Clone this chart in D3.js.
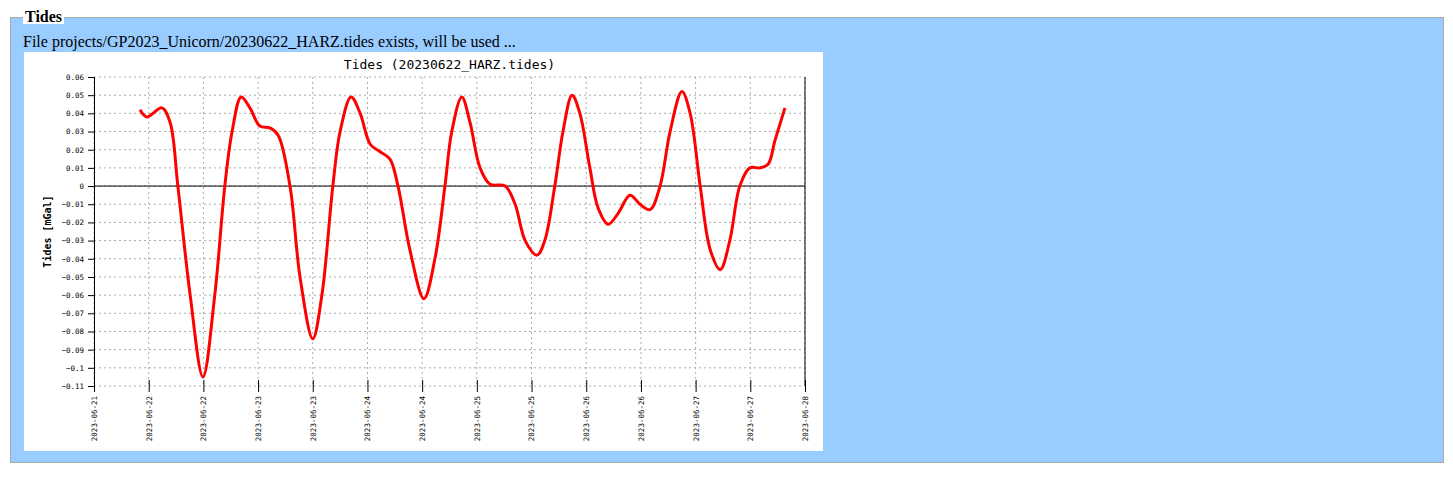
<!DOCTYPE html>
<html>
<head>
<meta charset="utf-8">
<script src="https://cdn.jsdelivr.net/npm/d3@7"></script>
<style>
body { margin: 0; background: #fff; font-family: "Liberation Serif", serif; }
fieldset { position: absolute; left: 10px; top: 10px; width: 1408px; height: 435px; margin: 0; padding: 8px 12px;
  border: 1px solid #aaa; background: #99ccff; }
legend { font-weight: bold; font-size: 16px; padding: 0 2px; background: #fff; line-height: 14px; }
#msg { font-size: 16px; margin-top: 1px; }
#chart { position: absolute; left: 13px; top: 28px; }
text { font-family: "DejaVu Sans Mono", monospace; }
</style>
</head>
<body>
<fieldset><legend>Tides</legend>
<div id="msg">File projects/GP2023_Unicorn/20230622_HARZ.tides exists, will be used ...</div>
<div id="chart"></div>
</fieldset>
<script>
// hours since 2023-06-21 12:00
const hours = [10.1, 11.6, 14.9, 16.7, 18.4, 21.1, 23.9, 26.5, 28.7, 30.3, 32.3, 34.2, 36.4, 38.6, 40.4, 43.0,
  45.2, 48.0, 50.0, 52.4, 54.0, 56.4, 58.4, 60.6, 62.7, 64.9, 66.7, 69.3, 72.4, 74.8, 77.0, 78.5, 80.7, 82.5,
  84.7, 86.9, 90.2, 92.4, 94.6, 97.2, 98.9, 101.1, 102.9, 104.9, 106.6, 108.8, 110.6, 112.8, 115.0, 117.6,
  119.8, 122.0, 124.2, 126.4, 129.0, 130.8, 133.0, 135.2, 137.4, 139.5, 141.7, 143.9, 146.1, 147.9, 149.4, 151.6];
const tides = [0.042, 0.038, 0.043, 0.035, 0.0, -0.06, -0.105, -0.06, 0.0, 0.03, 0.049, 0.043, 0.033, 0.032, 0.028, 0.0,
  -0.05, -0.084, -0.06, 0.0, 0.03, 0.049, 0.04, 0.023, 0.019, 0.015, 0.0, -0.035, -0.062, -0.04, 0.0, 0.03, 0.049, 0.035,
  0.01, 0.001, 0.0, -0.01, -0.03, -0.038, -0.03, 0.0, 0.03, 0.05, 0.04, 0.01, -0.012, -0.021, -0.015, -0.005,
  -0.01, -0.013, 0.0, 0.03, 0.052, 0.04, 0.0, -0.035, -0.046, -0.03, 0.0, 0.01, 0.01, 0.012, 0.025, 0.043];
const yTicks = [0.06, 0.05, 0.04, 0.03, 0.02, 0.01, 0, -0.01, -0.02, -0.03, -0.04, -0.05, -0.06, -0.07, -0.08, -0.09, -0.1, -0.11];
const xStart = new Date(2023, 5, 21, 12), xEnd = new Date(2023, 5, 28, 0);

const W = 799, H = 399;
const margin = { top: 25, right: 18, bottom: 65, left: 70 };
const svg = d3.select("#chart").append("svg").attr("width", W).attr("height", H).style("background", "#fff").style("display", "block");
const g = svg.append("g").attr("transform", `translate(${margin.left},${margin.top})`);
const w = W - margin.left - margin.right, h = H - margin.top - margin.bottom;

const x = d3.scaleTime().domain([xStart, xEnd]).range([0, w]);
const y = d3.scaleLinear().domain([-0.11, 0.06]).range([h, 0]);
const xTicks = d3.timeHour.every(12).range(xStart, new Date(+xEnd + 1));

// grid
g.selectAll(".gy").data(yTicks).enter().append("line")
  .attr("x1", 0).attr("x2", w).attr("y1", d => y(d)).attr("y2", d => y(d))
  .attr("stroke", "#aaa").attr("stroke-dasharray", "2,3");
g.selectAll(".gx").data(xTicks).enter().append("line")
  .attr("x1", d => x(d)).attr("x2", d => x(d)).attr("y1", 0).attr("y2", h)
  .attr("stroke", "#aaa").attr("stroke-dasharray", "2,3");

// axes
const ya = g.append("g").call(d3.axisLeft(y).tickValues(yTicks).tickSize(6).tickFormat(d => d3.format("")(+d.toFixed(2))));
ya.selectAll("text").style("font-size", "7.5px").attr("x", -10);
g.append("line").attr("x1", w).attr("x2", w).attr("y1", 0).attr("y2", h).attr("stroke", "#000");
const xa = g.append("g").attr("transform", `translate(0,${h})`).call(d3.axisBottom(x).tickValues(xTicks).tickSize(6).tickFormat(d3.timeFormat("%Y-%m-%d")));
xa.select(".domain").remove();
xa.selectAll(".tick line").attr("y1", -6);
xa.selectAll("text").style("font-size", "7.5px").attr("transform", "rotate(-90)")
  .attr("x", -10).attr("y", 0).attr("dy", "0.32em").style("text-anchor", "end");
g.append("line").attr("x1", 0).attr("x2", w).attr("y1", y(0)).attr("y2", y(0)).attr("stroke", "#000");

// line
const pts = hours.map((hr, i) => ({ t: xStart.getTime() + hr * 3600e3, v: tides[i] }));
g.append("path").datum(pts).attr("fill", "none").attr("stroke", "#ff0000").attr("stroke-width", 3)
  .attr("d", d3.line().x(d => x(new Date(d.t))).y(d => y(d.v)).curve(d3.curveCatmullRom.alpha(0.5)));

svg.append("text").attr("x", margin.left + w / 2).attr("y", 17).attr("text-anchor", "middle")
  .style("font-size", "13px").text("Tides (20230622_HARZ.tides)");
svg.append("text").attr("transform", `translate(27,${margin.top + h / 2}) rotate(-90)`).attr("text-anchor", "middle")
  .style("font-size", "10px").style("font-weight", "bold").text("Tides [mGal]");
</script>
</body>
</html>
